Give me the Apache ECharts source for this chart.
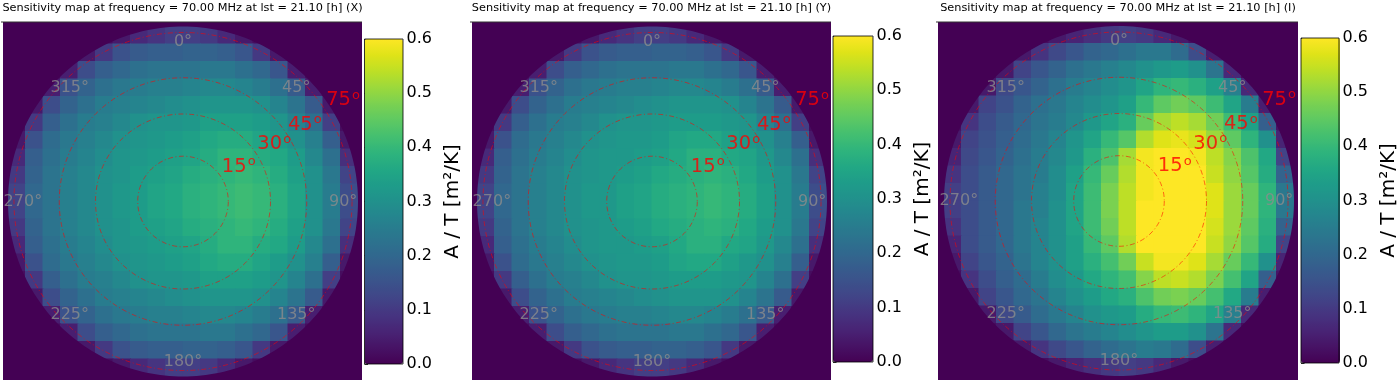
<!DOCTYPE html>
<html>
<head>
<meta charset="utf-8">
<script src="https://cdn.jsdelivr.net/npm/echarts@6/dist/echarts.min.js"></script>
<style>
html,body{margin:0;padding:0;background:#fff;}
#c{width:1400px;height:380px;}
</style>
</head>
<body>
<div id="c"></div>
<script>
// ---------------- DATA ----------------
const titlePrefix = 'Sensitivity map at frequency = 70.00 MHz at lst = 21.10 [h]';
const panelNames = ['X', 'Y', 'I'];
const colorbarTicks = [0, 0.1, 0.2, 0.3, 0.4, 0.5, 0.6];
const colorbarLabel = 'A / T [m\u00b2/K]';
const azimuthLabels = [0, 45, 90, 135, 180, 225, 270, 315];   // degrees
const zenithCircles = [15, 30, 45, 75];                        // degrees
// cell centres in direction cosines (west -> east, north -> south)
const lCenters = [-0.95,-0.85,-0.75,-0.65,-0.55,-0.45,-0.35,-0.25,-0.15,-0.05,0.05,0.15,0.25,0.35,0.45,0.55,0.65,0.75,0.85,0.95];
const mCenters = [0.95,0.85,0.75,0.65,0.55,0.45,0.35,0.25,0.15,0.05,-0.05,-0.15,-0.25,-0.35,-0.45,-0.55,-0.65,-0.75,-0.85,-0.95];
const VALUE_UNIT = 0.01; // grids below are in hundredths of m^2/K

const sensX = [
[0,0,0,0,0,2,4,7,9,11,11,10,7,4,2,0,0,0,0,0],
[0,0,0,0,4,10,15,17,18,18,19,19,18,16,10,4,0,0,0,0],
[0,0,2,5,14,18,20,22,23,23,23,24,24,22,20,16,5,2,0,0],
[0,0,5,15,19,22,24,25,26,26,27,28,28,27,25,22,17,5,0,0],
[0,4,14,19,22,25,26,27,28,29,30,31,31,31,30,27,23,17,4,0],
[2,10,18,22,25,26,28,30,31,31,32,34,34,34,33,31,27,22,11,2],
[4,15,21,24,26,28,30,31,32,33,34,36,37,37,35,33,30,26,18,4],
[7,18,22,25,27,29,31,32,33,34,35,37,39,39,37,36,33,28,22,8],
[10,19,23,26,28,30,31,33,34,35,37,38,39,40,39,37,34,30,24,12],
[12,20,23,26,28,30,32,33,35,36,38,39,40,41,40,38,35,30,25,14],
[12,20,23,26,28,30,32,33,35,36,38,39,40,41,40,38,35,30,25,14],
[10,19,23,26,28,30,31,33,34,35,37,38,39,40,39,37,34,30,24,12],
[7,18,22,25,27,29,31,32,33,34,35,37,39,39,37,36,33,28,22,8],
[4,15,21,24,26,28,30,31,32,33,34,36,37,37,35,33,30,26,18,4],
[2,10,18,22,25,26,28,30,31,31,32,34,34,34,33,31,27,22,11,2],
[0,4,14,19,22,25,26,27,28,29,30,31,31,31,30,27,23,17,4,0],
[0,0,5,15,19,22,24,25,26,26,27,28,28,27,25,22,17,5,0,0],
[0,0,2,5,14,18,20,22,23,23,23,24,24,22,20,16,5,2,0,0],
[0,0,0,0,4,10,15,17,18,18,19,19,18,16,10,4,0,0,0,0],
[0,0,0,0,0,2,4,7,9,11,11,10,7,4,2,0,0,0,0,0]
];

const sensY = [
[0,0,0,0,0,2,4,7,9,11,11,10,7,4,2,0,0,0,0,0],
[0,0,0,0,4,10,15,17,18,18,19,19,18,16,10,4,0,0,0,0],
[0,0,2,5,14,18,20,22,23,23,23,24,24,22,20,16,5,2,0,0],
[0,0,5,15,19,22,24,25,26,26,27,28,28,27,25,22,17,5,0,0],
[0,4,14,19,22,25,26,27,28,29,30,31,31,31,30,27,23,17,4,0],
[2,10,18,22,25,26,28,30,31,31,32,33,33,33,32,31,27,22,11,2],
[4,15,21,24,26,28,30,31,32,32,33,35,36,36,34,32,30,26,18,4],
[7,18,22,25,27,29,31,32,32,33,34,36,38,38,36,35,32,28,22,8],
[10,19,23,26,28,30,31,32,33,34,36,37,38,39,38,36,33,30,24,12],
[12,20,23,26,28,30,32,32,34,35,37,38,39,40,39,37,34,30,25,14],
[12,20,23,26,28,30,32,32,34,35,37,38,39,40,39,37,34,30,25,14],
[10,19,23,26,28,30,31,32,33,34,36,37,38,39,38,36,33,30,24,12],
[7,18,22,25,27,29,31,32,32,33,34,36,38,38,36,35,32,28,22,8],
[4,15,21,24,26,28,30,31,32,32,33,35,36,36,34,32,30,26,18,4],
[2,10,18,22,25,26,28,30,31,31,32,33,33,33,32,31,27,22,11,2],
[0,4,14,19,22,25,26,27,28,29,30,31,31,31,30,27,23,17,4,0],
[0,0,5,15,19,22,24,25,26,26,27,28,28,27,25,22,17,5,0,0],
[0,0,2,5,14,18,20,22,23,23,23,24,24,22,20,16,5,2,0,0],
[0,0,0,0,4,10,15,17,18,18,19,19,18,16,10,4,0,0,0,0],
[0,0,0,0,0,2,4,7,9,11,11,10,7,4,2,0,0,0,0,0]
];

const sensI = [
[0,0,0,0,0,2,4,6,8,10,11,10,7,4,2,0,0,0,0,0],
[0,0,0,0,4,9,13,16,19,20,22,24,24,21,14,5,0,0,0,0],
[0,0,2,4,12,16,19,22,24,26,28,30,32,33,30,23,7,2,0,0],
[0,0,4,13,16,19,22,25,27,29,31,35,39,40,38,34,26,7,0,0],
[0,4,12,15,19,22,24,27,29,31,34,40,45,47,45,41,35,25,5,0],
[2,9,14,17,20,23,25,28,32,35,38,46,52,54,52,47,41,34,18,3],
[4,12,15,18,21,24,27,31,35,40,44,53,57,58,56,51,45,39,30,6],
[6,13,16,19,22,25,28,32,38,43,52,59,61,61,59,54,49,43,36,12],
[9,14,17,20,23,25,29,34,40,46,53,59,62,62,60,55,50,44,37,19],
[11,14,17,20,23,26,29,35,41,48,54,59,63,64,61,57,51,46,39,24],
[11,14,17,20,24,26,30,35,41,48,54,60,63,64,62,57,51,46,39,24],
[9,14,17,20,24,27,30,35,41,47,54,60,63,63,61,56,51,45,38,19],
[6,14,17,20,24,27,30,34,40,45,53,60,62,62,60,55,50,44,37,12],
[4,12,16,19,23,27,30,34,38,42,47,55,59,59,57,52,46,40,30,6],
[2,9,14,18,21,25,29,32,36,39,42,49,54,55,53,48,42,35,18,3],
[0,4,12,16,20,23,27,30,33,36,38,43,47,48,46,42,36,25,5,0],
[0,0,4,13,17,21,24,27,30,32,33,37,40,41,39,35,26,7,0,0],
[0,0,2,4,12,16,20,23,25,27,29,31,33,33,30,23,7,2,0,0],
[0,0,0,0,4,9,13,16,19,21,23,25,24,21,14,5,0,0,0,0],
[0,0,0,0,0,2,4,6,8,10,11,10,7,4,2,0,0,0,0,0]
];

const panelData = [sensX, sensY, sensI];

// ---------------- STYLE / LAYOUT ----------------
const FONT = '"DejaVu Sans", sans-serif';
const VIRIDIS = ['#440154','#471365','#482475','#463480','#414487','#3b528b','#355f8d','#2f6c8e','#2a788e','#25848e','#21918c','#1e9c89','#22a884','#2fb47c','#44bf70','#5ec962','#7ad151','#9bd93c','#bddf26','#dfe318','#fde725'];
const R = 175;
const IMG_TOP = 22, IMG_BOTTOM = 381;
const PANELS = [
  {cx: 183,  cy: 201.5, imgL: 3,   imgR: 362,  cbL: 364.5, cbT: 39, cbW: 38.5, cbH: 325},
  {cx: 652,  cy: 201.5, imgL: 472, imgR: 831,  cbL: 833,   cbT: 36, cbW: 40,   cbH: 326},
  {cx: 1119, cy: 201,   imgL: 938, imgR: 1298, cbL: 1301,  cbT: 38, cbW: 39,   cbH: 325}
];
const AZ_LABEL_RADIUS = 0.915;
const ZEN_LABEL_OFFSET = 0.115, ZEN_LABEL_ANGLE = 32.5;

const chart = echarts.init(document.getElementById('c'), null, {renderer: 'canvas', width: 1400, height: 380});
const option = {animation: false, backgroundColor: '#ffffff', grid: [], xAxis: [], yAxis: [], series: [], visualMap: [], graphic: []};

function zenLabelPos(z) {
  const d = Math.sin(z * Math.PI / 180) + ZEN_LABEL_OFFSET;
  const t = ZEN_LABEL_ANGLE * Math.PI / 180;
  return [d * Math.cos(t), d * Math.sin(t), z];
}

PANELS.forEach((P, p) => {
  const g = option.grid.length;
  const ax = option.xAxis.length;
  option.grid.push({left: P.cx - R, top: P.cy - R, width: 2 * R, height: 2 * R});
  option.grid.push({left: P.cx - R, top: P.cy - R, width: 2 * R, height: 2 * R});
  option.grid.push({left: P.cbL, top: P.cbT, width: P.cbW, height: P.cbH, show: true,
    borderColor: '#000', borderWidth: 0.8, backgroundColor: 'rgba(0,0,0,0)', z: 10});

  option.xAxis.push({gridIndex: g, type: 'category', data: lCenters.map(String), show: false});
  option.yAxis.push({gridIndex: g, type: 'category', data: mCenters.map(String), inverse: true, show: false});
  option.xAxis.push({gridIndex: g + 1, type: 'value', min: -1, max: 1, show: false});
  option.yAxis.push({gridIndex: g + 1, type: 'value', min: -1, max: 1, show: false});
  option.xAxis.push({gridIndex: g + 2, type: 'value', min: 0, max: 1, show: false});
  option.yAxis.push({gridIndex: g + 2, type: 'value', min: colorbarTicks[0], max: colorbarTicks[colorbarTicks.length - 1],
    interval: 0.1, position: 'right',
    axisLine: {show: false},
    axisTick: {show: true, length: 3.5, lineStyle: {color: '#000', width: 0.8}},
    splitLine: {show: false},
    axisLabel: {show: true, fontSize: 16, color: '#000', fontFamily: FONT, margin: 3.5,
      formatter: v => Number(v).toFixed(1)},
    name: colorbarLabel, nameLocation: 'middle', nameRotate: 90, nameGap: 40,
    nameTextStyle: {fontSize: 20, color: '#000', fontFamily: FONT}
  });

  // sensitivity cells (drawn through the category scales; slight overlap avoids seams)
  const grid = panelData[p];
  const hm = [];
  grid.forEach((row, j) => row.forEach((v, i) => hm.push([i, j, +(v * VALUE_UNIT).toFixed(3)])));
  const heatIdx = option.series.length;
  option.series.push({type: 'custom', xAxisIndex: ax, yAxisIndex: ax, z: 2, silent: true,
    data: hm, encode: {x: 0, y: 1},
    renderItem: (params, api) => {
      const pt = api.coord([api.value(0), api.value(1)]);
      const s = api.size([1, 1]);
      return {type: 'rect',
        shape: {x: pt[0] - s[0] / 2 - 0.5, y: pt[1] - s[1] / 2 - 0.5, width: s[0] + 1, height: s[1] + 1},
        style: {fill: api.visual('color')}};
    }});

  // zenith circles
  option.series.push({type: 'custom', xAxisIndex: ax + 1, yAxisIndex: ax + 1, z: 20, silent: true,
    data: zenithCircles.map(z => ({value: [0, 0, z]})),
    renderItem: (params, api) => {
      const z = api.value(2);
      const c = api.coord([0, 0]);
      const e = api.coord([Math.sin(z * Math.PI / 180), 0]);
      return {type: 'circle', shape: {cx: c[0], cy: c[1], r: e[0] - c[0]},
        style: {fill: 'none', stroke: '#ff0000', lineWidth: 0.8, lineDash: [5, 2.5, 1, 2.5], opacity: 0.7}};
    }});

  // azimuth labels
  option.series.push({type: 'scatter', xAxisIndex: ax + 1, yAxisIndex: ax + 1, z: 21, silent: true,
    symbolSize: 0,
    data: azimuthLabels.map(a => [AZ_LABEL_RADIUS * Math.sin(a * Math.PI / 180), AZ_LABEL_RADIUS * Math.cos(a * Math.PI / 180), a]),
    label: {show: true, position: 'inside', formatter: prm => prm.value[2] + '\u00b0',
      fontSize: 16, color: '#8c8c8c', fontFamily: FONT}});

  // zenith labels: number and superscript "o"
  option.series.push({type: 'scatter', xAxisIndex: ax + 1, yAxisIndex: ax + 1, z: 22, silent: true,
    symbolSize: 0, data: zenithCircles.map(zenLabelPos),
    label: {show: true, position: 'inside', offset: [-4, 0.5], formatter: prm => String(prm.value[2]),
      fontSize: 19.5, color: '#ff0000', fontFamily: FONT}});
  option.series.push({type: 'scatter', xAxisIndex: ax + 1, yAxisIndex: ax + 1, z: 22, silent: true,
    symbolSize: 0, data: zenithCircles.map(zenLabelPos),
    label: {show: true, position: 'inside', offset: [13.5, -4.5], formatter: () => 'o',
      fontSize: 13, color: '#ff0000', fontFamily: FONT}});

  // colorbar axis carrier
  option.series.push({type: 'scatter', xAxisIndex: ax + 2, yAxisIndex: ax + 2, data: [], silent: true});

  option.visualMap.push({type: 'continuous', seriesIndex: heatIdx, dimension: 2, min: 0, max: 0.6,
    calculable: false, hoverLink: false, orient: 'vertical', left: P.cbL, top: P.cbT,
    itemWidth: P.cbW, itemHeight: P.cbH, padding: 0, text: null, z: 4,
    inRange: {color: VIRIDIS}});

  // mask outside the horizon disk
  const pts = [];
  const x0 = P.imgL, x1 = P.imgR, y0 = IMG_TOP, y1 = IMG_BOTTOM;
  pts.push([x0, y0], [P.cx, y0], [P.cx, P.cy - R]);
  const N = 240;
  for (let k = 1; k <= N; k++) {
    const a = -Math.PI / 2 - 2 * Math.PI * k / N;
    pts.push([P.cx + R * Math.cos(a), P.cy + R * Math.sin(a)]);
  }
  pts.push([P.cx, y0], [x1, y0], [x1, y1], [x0, y1]);
  option.graphic.push({type: 'polygon', shape: {points: pts}, style: {fill: '#440154', stroke: null}, z: 10, silent: true});

  option.graphic.push({type: 'line', shape: {x1: x0 - 2, y1: y0, x2: x1, y2: y0}, style: {stroke: '#333', lineWidth: 1}, z: 11, silent: true});

  option.graphic.push({type: 'text', x: (x0 + x1) / 2, y: 8.5, z: 12, silent: true,
    style: {text: titlePrefix + ' (' + panelNames[p] + ')', font: '11.3px ' + FONT, fill: '#000',
      align: 'center', verticalAlign: 'middle', textAlign: 'center', textVerticalAlign: 'middle'}});
});

chart.setOption(option);
</script>
</body>
</html>
